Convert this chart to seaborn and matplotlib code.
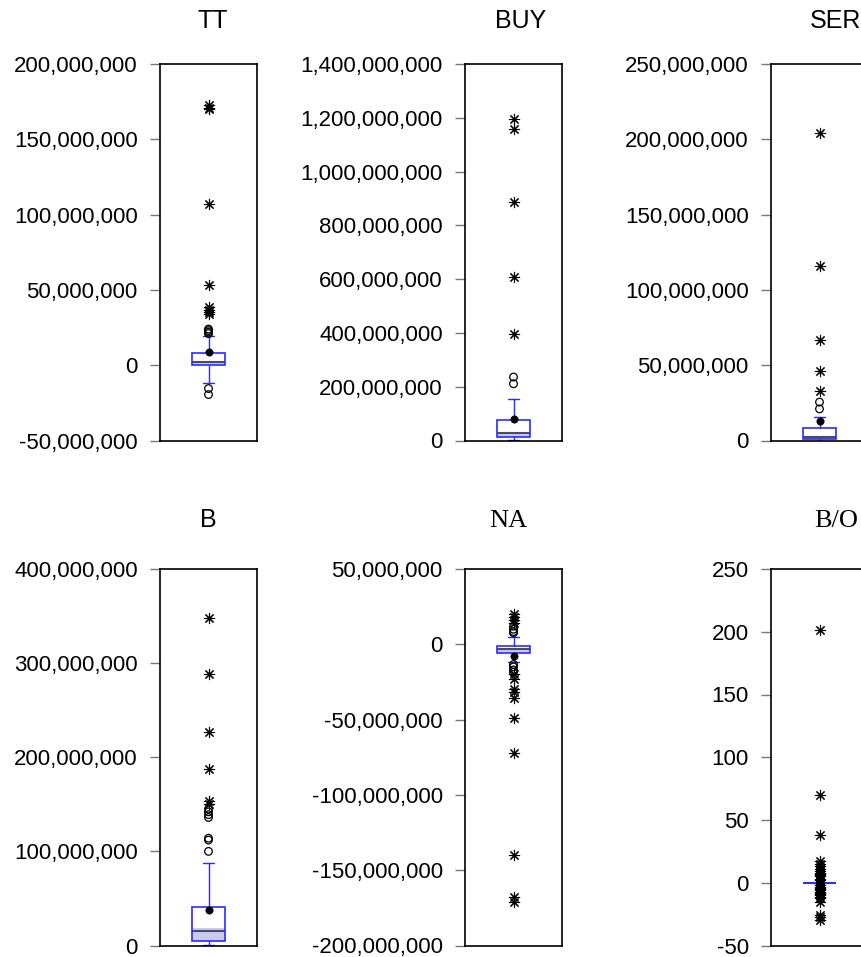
import numpy as np
import pandas as pd
import seaborn as sns
from matplotlib import pyplot as plt
from matplotlib.font_manager import FontProperties
from matplotlib.ticker import MultipleLocator, FuncFormatter

# summary stats per variable
names = ["TT", "BUY", "SER", "B", "NA", "B/O"]
q1 = [0.3e6, 12e6, 1.1e6, 5.3e6, -5.6e6, 0]
med = [2.2e6, 27e6, 2.2e6, 14.9e6, -3.4e6, 0]
q3 = [8.0e6, 77e6, 8.4e6, 40.7e6, -1.2e6, 0]
whislo = [-12e6, 3e6, 0.0, 0.7e6, -11.6e6, 0]
whishi = [19.5e6, 155e6, 15.5e6, 88e6, 4.8e6, 0]
means = [8.9e6, 81e6, 12.8e6, 38e6, -7.8e6, 1.5]
ci_lo = [0.3e6, 12e6, 1.1e6, 5.3e6, -5.6e6, 0]
ci_hi = [2.6e6, 31e6, 2.6e6, 18.4e6, -2.6e6, 0]

mild = [
    [24e6, 23e6, 22e6, 21e6, -15.5e6, -19.5e6],
    [236e6, 211e6],
    [25.5e6, 21e6],
    [145e6, 142e6, 139e6, 136e6, 114e6, 112e6, 100e6],
    [12e6, 10e6, 8.5e6, 7.6e6, -13.4e6, -15e6, -17e6, -18.5e6],
    [],
]
extreme = [
    [173e6, 171e6, 170e6, 107e6, 53.5e6, 38.5e6, 36.5e6, 35e6, 34e6],
    [1195e6, 1160e6, 885e6, 608e6, 397e6],
    [204e6, 116e6, 66.5e6, 46e6, 33e6],
    [347.5e6, 288e6, 227e6, 187e6, 154e6, 150e6],
    [20e6, 18e6, 16e6, 14.3e6, -20e6, -23.3e6, -30e6, -32e6, -35.6e6,
     -49e6, -72e6, -140e6, -167.5e6, -171e6],
    [201, 70, 38, 17, 15, 13, 11, 9, 8, 7, 6, 5, 3, 2, -2, -3, -4, -5,
     -6, -7, -8, -9, -10, -11, -12.5, -15, -25.5, -27.5, -29.5],
]

ylims = [(-50e6, 200e6), (0, 1400e6), (0, 250e6), (0, 400e6), (-200e6, 50e6), (-50, 250)]
ysteps = [50e6, 200e6, 50e6, 100e6, 50e6, 50]
title_fonts = ["Liberation Sans"] * 4 + ["Liberation Serif"] * 2
title_sizes = [18, 18, 18, 18, 19, 19]
title_x = [0.546, 0.577, 0.67, 0.5, 0.445, 0.67]

sns.set_style("white")
plt.rcParams["font.family"] = ["Liberation Sans", "DejaVu Sans"]
plt.rcParams["text.color"] = "black"

W, H = 861, 957
fig = plt.figure(figsize=(W / 100, H / 100), dpi=100)

lefts = [160, 465, 771]
tops = [64, 569]
aw, ah = 97, 376.5

box_blue = "#2b2bff"
for i, name in enumerate(names):
    r, c = divmod(i, 3)
    ax = fig.add_axes([lefts[c] / W, 1 - (tops[r] + ah) / H, aw / W, ah / H])

    stats = [dict(med=med[i], q1=q1[i], q3=q3[i], whislo=whislo[i], whishi=whishi[i], fliers=[])]
    ax.bxp(stats, positions=[0], widths=1.0, capwidths=0.37, showfliers=False,
           patch_artist=True,
           boxprops=dict(facecolor="none", edgecolor=box_blue, linewidth=1.2, zorder=3),
           whiskerprops=dict(color=box_blue, linewidth=1.0),
           capprops=dict(color=box_blue, linewidth=1.0),
           medianprops=dict(color="#4a4a66", linewidth=1.5, zorder=2.5))
    ax.fill_between([-0.5, 0.5], ci_lo[i], ci_hi[i], color="#c9c9f2", zorder=2, linewidth=0)

    if mild[i]:
        sns.scatterplot(x=np.zeros(len(mild[i])), y=mild[i], ax=ax, marker="o",
                        s=30, facecolor="none", edgecolor="black", linewidth=0.9, zorder=4)
    sns.scatterplot(x=np.zeros(len(extreme[i])), y=extreme[i], ax=ax, marker=(8, 2, 0),
                    s=55, color="black", linewidth=0.8, zorder=4)
    sns.scatterplot(x=[0], y=[means[i]], ax=ax, marker="o", s=28, color="black",
                    edgecolor="black", zorder=5)

    ax.set_xlim(-1.5, 1.5)
    ax.set_ylim(*ylims[i])
    ax.set_xticks([])
    ax.yaxis.set_major_locator(MultipleLocator(ysteps[i]))
    ax.yaxis.set_major_formatter(FuncFormatter(lambda v, p: f"{v:,.0f}"))
    ax.tick_params(axis="y", left=True, length=7, width=1, color="#777777",
                   pad=9, labelsize=16, labelcolor="black")
    for sp in ax.spines.values():
        sp.set_color("black")
        sp.set_linewidth(1.2)
    ax.set_title(name, x=title_x[i], color="black",
                 fontproperties=FontProperties(family=title_fonts[i], size=title_sizes[i]),
                 pad=26 if r == 0 else 30)

fig.savefig("out.png", dpi=100)
